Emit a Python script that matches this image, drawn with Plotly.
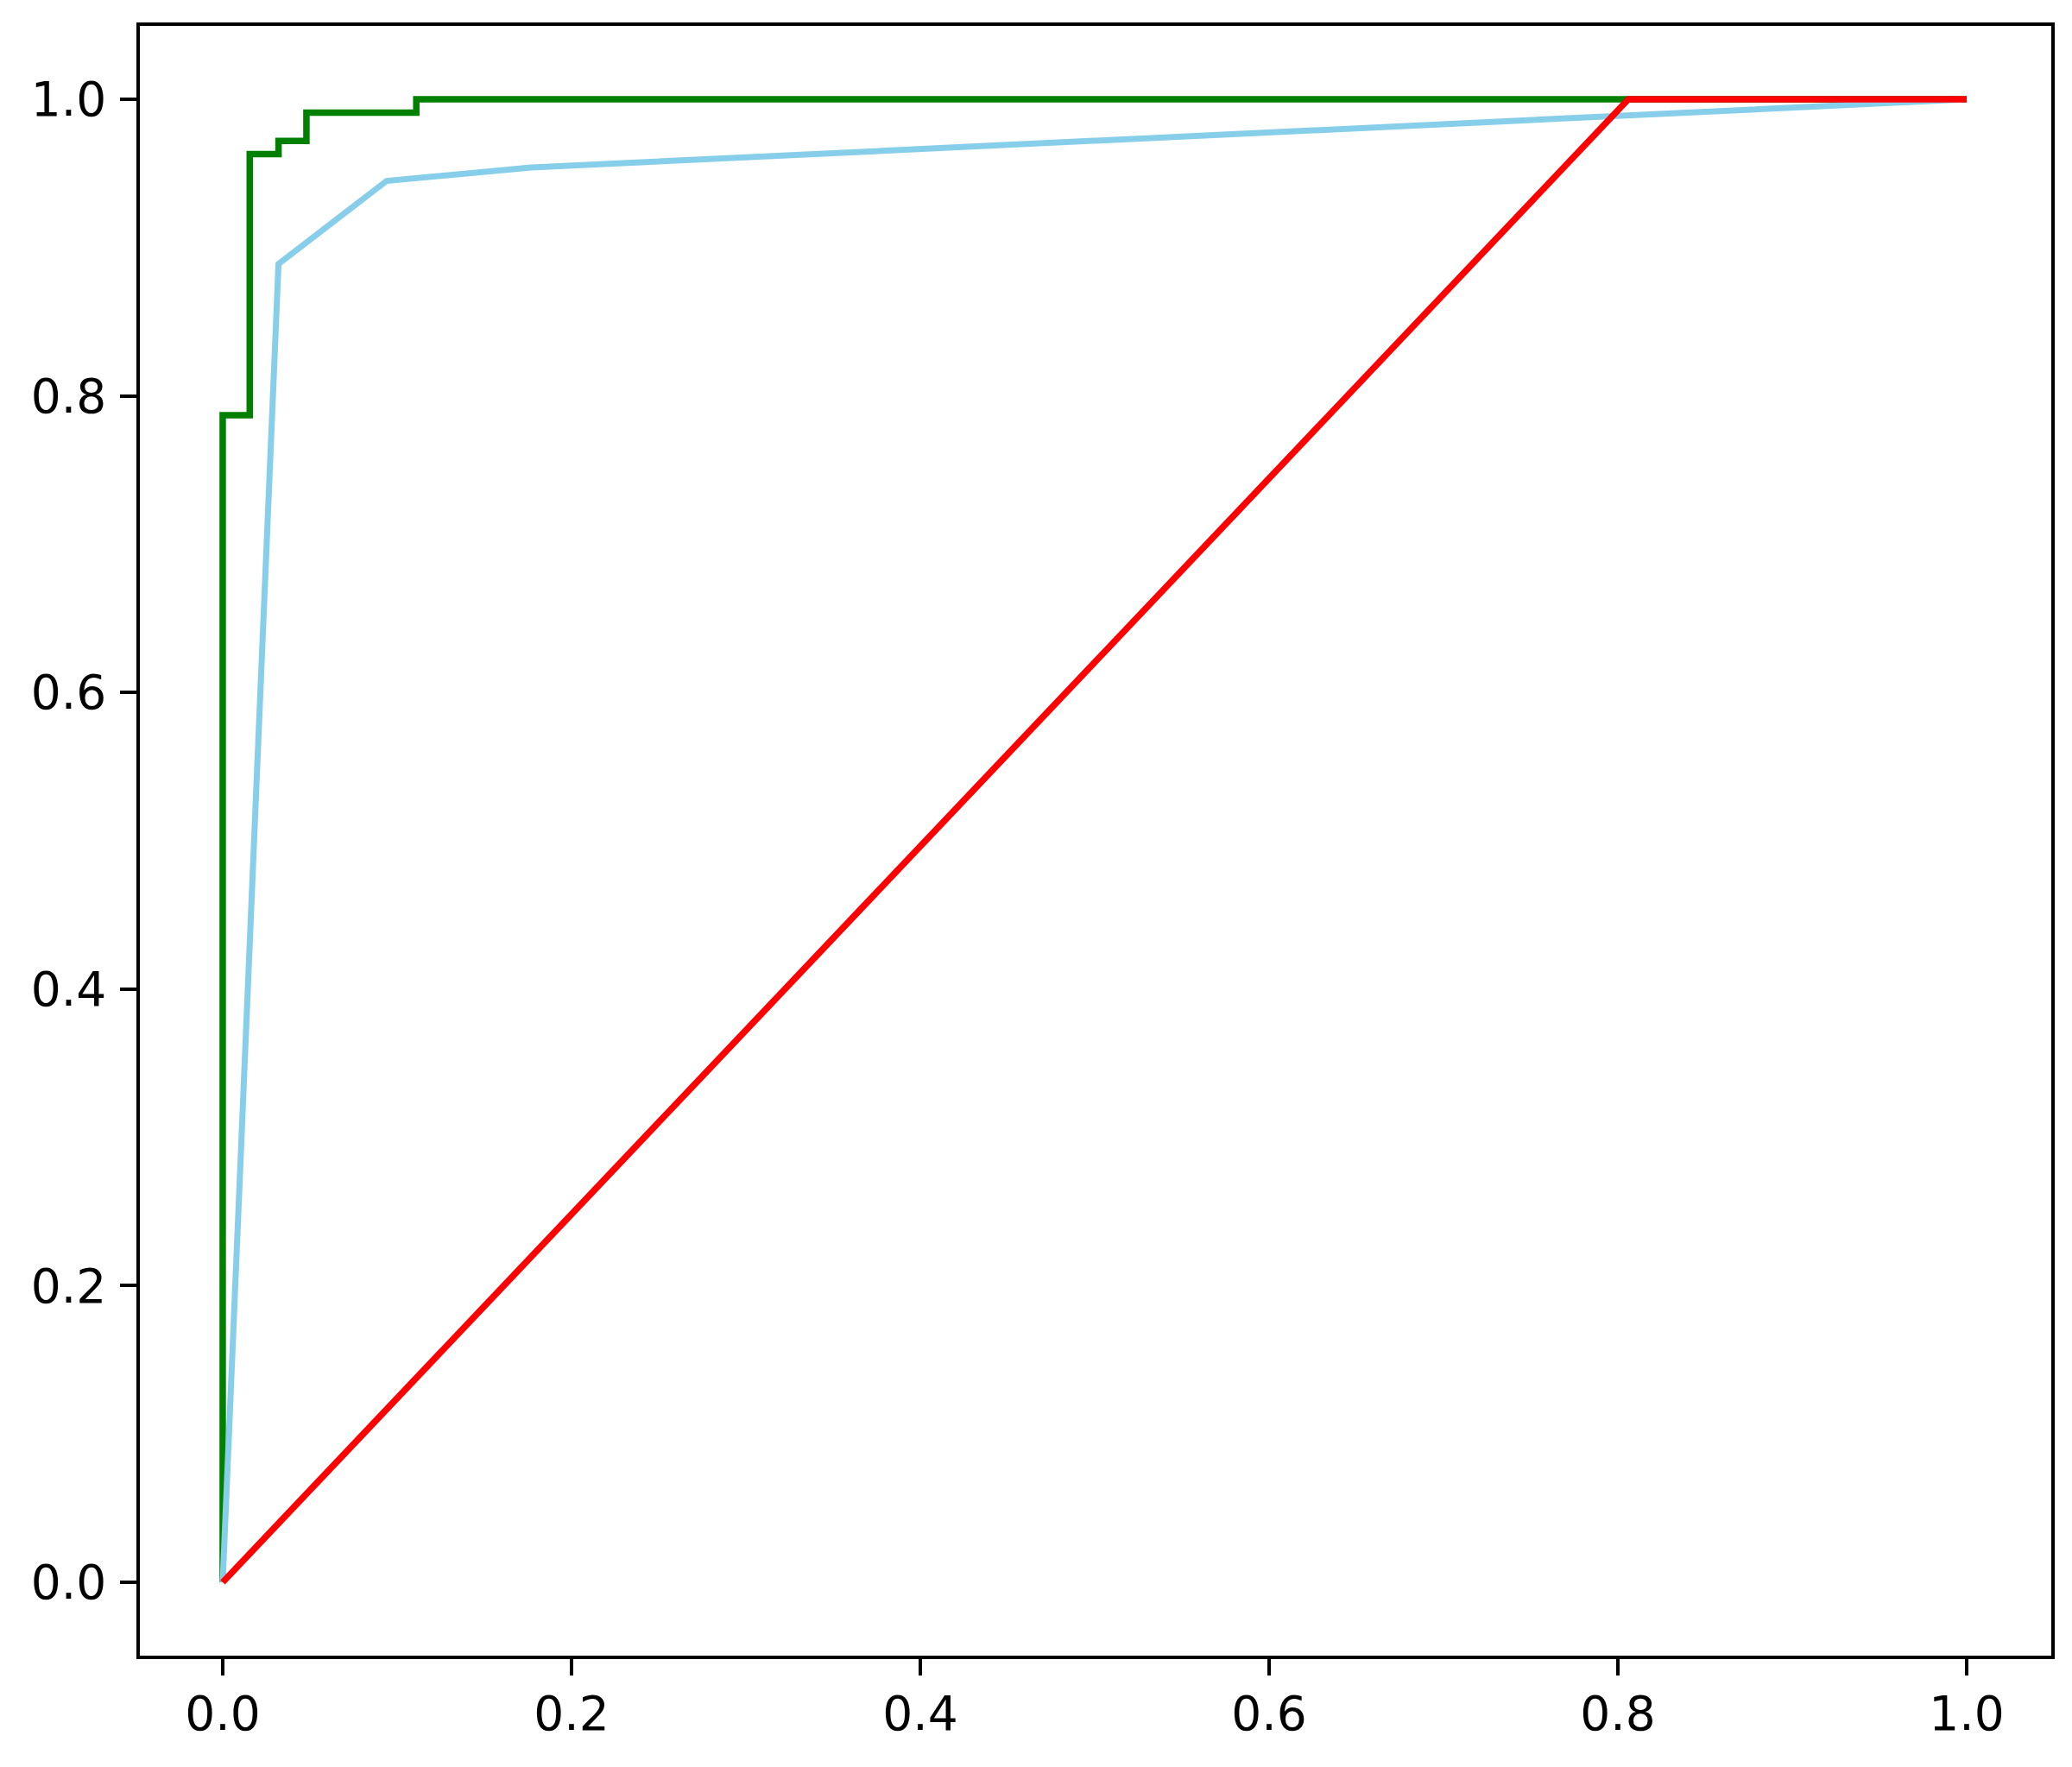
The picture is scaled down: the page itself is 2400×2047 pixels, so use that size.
import plotly.graph_objects as go

# ROC-style curves
green_fpr = [0.0, 0.0, 0.0155, 0.0155, 0.032, 0.032, 0.048, 0.048, 0.111, 0.111, 1.0]
green_tpr = [0.0, 0.787, 0.787, 0.963, 0.963, 0.972, 0.972, 0.991, 0.991, 1.0, 1.0]

blue_fpr = [0.0, 0.032, 0.094, 0.177, 1.0]
blue_tpr = [0.0, 0.889, 0.945, 0.954, 1.0]

red_fpr = [0.0, 0.806, 1.0]
red_tpr = [0.0, 1.0, 1.0]

tick_vals = [0.0, 0.2, 0.4, 0.6, 0.8, 1.0]
tick_text = ["0.0", "0.2", "0.4", "0.6", "0.8", "1.0"]

fig = go.Figure()
fig.add_trace(go.Scatter(x=green_fpr, y=green_tpr, mode="lines",
                         line=dict(color="green", width=7.5), showlegend=False))
fig.add_trace(go.Scatter(x=blue_fpr, y=blue_tpr, mode="lines",
                         line=dict(color="skyblue", width=7), showlegend=False))
fig.add_trace(go.Scatter(x=red_fpr, y=red_tpr, mode="lines",
                         line=dict(color="red", width=7.5), showlegend=False))

axis_common = dict(
    tickvals=tick_vals,
    ticktext=tick_text,
    showgrid=False,
    zeroline=False,
    showline=True,
    mirror=True,
    linecolor="black",
    linewidth=3.5,
    ticks="outside",
    ticklen=19,
    tickwidth=3.5,
    tickcolor="black",
    tickfont=dict(family="DejaVu Sans", size=55, color="black"),
)

fig.update_layout(
    width=2400,
    height=2047,
    margin=dict(l=154, r=32, t=22, b=137),
    paper_bgcolor="white",
    plot_bgcolor="white",
    xaxis=dict(**axis_common, range=[-0.0475, 1.0485], ticklabelstandoff=-3),
    yaxis=dict(**axis_common, range=[-0.0495, 1.0495], ticklabelstandoff=5),
)

fig.write_html("out.html")
